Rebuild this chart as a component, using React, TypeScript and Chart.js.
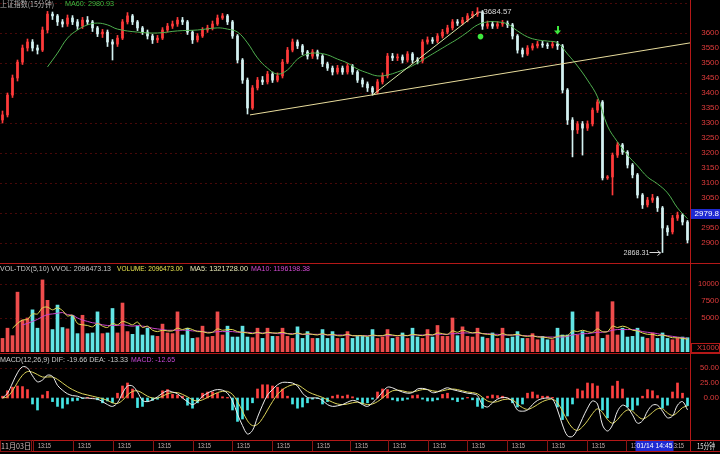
import React, { useEffect, useRef } from 'react';
import { Chart, registerables } from 'chart.js';

Chart.register(...registerables);

// ---------------- data ----------------
const firstOpen = 3310;
const closes = [
  3327, 3393, 3450, 3503, 3550, 3570, 3550, 3543, 3610, 3663,
  3657, 3637, 3630, 3650, 3637, 3623, 3643, 3637, 3617, 3597,
  3603, 3570, 3563, 3583, 3637, 3657, 3637, 3617, 3603, 3590,
  3577, 3583, 3610, 3623, 3630, 3643, 3637, 3603, 3577, 3590,
  3610, 3617, 3630, 3650, 3657, 3637, 3590, 3510, 3443, 3350,
  3417, 3443, 3437, 3463, 3443, 3457, 3503, 3543, 3570, 3557,
  3537, 3523, 3537, 3523, 3497, 3483, 3470, 3483, 3470, 3490,
  3470, 3443, 3430, 3417, 3403, 3437, 3457, 3523, 3517, 3520,
  3510, 3530, 3510, 3507, 3570, 3577, 3573, 3590, 3603, 3617,
  3637, 3633, 3643, 3657, 3663, 3670, 3623, 3630, 3623, 3630,
  3633, 3627, 3590, 3543, 3530, 3550, 3557, 3563, 3560, 3557,
  3563, 3557, 3410, 3310, 3277, 3297, 3283, 3297, 3343, 3370,
  3117, 3120, 3193, 3227, 3203, 3160, 3127, 3060, 3027, 3043,
  3050, 3017, 2950, 2937, 2983, 2993, 2970, 2910,
];
const highs = [
  3340, 3400, 3460, 3510, 3560, 3580, 3578, 3560, 3620, 3672,
  3670, 3662, 3645, 3660, 3658, 3645, 3652, 3655, 3642, 3622,
  3612, 3610, 3578, 3592, 3645, 3668, 3662, 3642, 3622, 3610,
  3596, 3592, 3618, 3632, 3640, 3652, 3652, 3642, 3608, 3598,
  3618, 3626, 3640, 3660, 3665, 3662, 3642, 3595, 3515, 3450,
  3425, 3452, 3455, 3472, 3470, 3467, 3512, 3552, 3580, 3577,
  3562, 3542, 3545, 3543, 3528, 3503, 3490, 3492, 3490, 3498,
  3495, 3475, 3450, 3437, 3422, 3445, 3467, 3532, 3532, 3530,
  3527, 3538, 3535, 3518, 3578, 3587, 3585, 3598, 3612, 3626,
  3645, 3645, 3652, 3665, 3672, 3684.57, 3675, 3640, 3638, 3638,
  3642, 3640, 3632, 3595, 3550, 3558, 3565, 3572, 3572, 3567,
  3572, 3572, 3562, 3415, 3318, 3305, 3305, 3307, 3350, 3378,
  3375, 3125, 3200, 3235, 3232, 3208, 3165, 3132, 3065, 3052,
  3062, 3055, 3022, 2958, 2992, 3003, 2998, 2975,
];
const lows = [
  3300, 3320, 3385, 3440, 3495, 3540, 3540, 3530, 3538, 3600,
  3645, 3625, 3620, 3622, 3628, 3612, 3615, 3628, 3605, 3588,
  3585, 3555, 3510, 3555, 3578, 3630, 3628, 3608, 3595, 3580,
  3565, 3568, 3578, 3603, 3615, 3622, 3628, 3595, 3565, 3570,
  3585, 3602, 3610, 3625, 3645, 3628, 3582, 3500, 3432, 3330,
  3345, 3410, 3428, 3430, 3435, 3437, 3450, 3498, 3537, 3548,
  3528, 3513, 3515, 3513, 3488, 3475, 3460, 3463, 3462, 3463,
  3462, 3435, 3420, 3405, 3393, 3398, 3430, 3450, 3508, 3508,
  3500, 3503, 3500, 3497, 3500, 3563, 3565, 3567, 3583, 3597,
  3610, 3625, 3627, 3637, 3650, 3655, 3612, 3615, 3615, 3615,
  3622, 3618, 3580, 3533, 3520, 3525, 3543, 3550, 3552, 3548,
  3550, 3545, 3400, 3295, 3187, 3265, 3193, 3275, 3290, 3335,
  3110, 3112, 3060, 3185, 3195, 3150, 3117, 3050, 3015, 3020,
  3035, 3005, 2868.31, 2925, 2930, 2975, 2960, 2900,
];
const ma60Index = [
  9, 11, 13, 15, 17, 19, 21, 23, 27, 31, 35, 39, 43,
  45, 47, 49, 51, 53, 55, 57, 59, 61, 63, 65, 67, 69, 71, 73, 75, 77, 79,
  81, 83, 85, 87, 89, 91, 93, 95, 97, 99, 101, 103, 105, 107, 109, 111,
  113, 115, 117, 119, 121, 123, 125, 127, 129, 131, 133, 135, 137,
];
const ma60Values = [
  3487, 3533, 3583, 3610, 3627, 3633, 3627, 3613, 3603, 3600, 3607, 3610, 3617,
  3613, 3603, 3567, 3517, 3483, 3463, 3477, 3513, 3530, 3533, 3527, 3513, 3500, 3480, 3467, 3457, 3460, 3470,
  3483, 3500, 3520, 3540, 3560, 3580, 3603, 3627, 3637, 3637, 3630, 3607, 3587, 3577, 3573, 3567,
  3530, 3490, 3443, 3387, 3290, 3237, 3193, 3157, 3120, 3097, 3067, 3017, 2980.93,
];
const volumes = [
  2000, 3500, 2400, 8800, 4700, 5000, 6200, 3500, 10600, 7600,
  3300, 6900, 3600, 3400, 5400, 2700, 5400, 2700, 2800, 5900,
  2700, 2800, 6400, 2800, 7200, 3000, 2600, 3800, 2500, 3500,
  2400, 2300, 4100, 2800, 2700, 5900, 2500, 3500, 2000, 2100,
  3800, 2200, 2300, 5900, 2500, 3800, 2200, 2200, 3800, 2200,
  2100, 3500, 2000, 3500, 2300, 2300, 3500, 2300, 2000, 3700,
  2000, 3000, 2000, 2000, 3300, 2000, 3000, 2000, 2000, 3000,
  2000, 2300, 2300, 2200, 3300, 2000, 2200, 3300, 2000, 2200,
  2800, 2000, 3500, 2200, 2000, 3300, 2200, 3900, 2300, 2300,
  5000, 2400, 3700, 2300, 2200, 3500, 2200, 2000, 2800, 2000,
  3500, 2000, 2200, 3000, 2000, 2000, 2700, 1800, 2300, 1800,
  1800, 3500, 2500, 2500, 5900, 2500, 3000, 2200, 2300, 5900,
  2000, 2500, 7400, 2500, 3500, 2200, 2300, 3500, 2200, 2000,
  2800, 2000, 2800, 2000, 1800, 2000, 2200, 2100,
];
const volMa5 = [
  null, null, 3500, 4200, 4700, 4800, 5600, 5600, 6500, 6600,
  6200, 6500, 6100, 5300, 5400, 4200, 4000, 3900, 3700, 4200,
  3800, 3600, 4200, 4000, 4500, 4300, 4000, 4400, 3600, 3800,
  3200, 3000, 3200, 3100, 3100, 3500, 3300, 3500, 3300, 3000,
  3000, 2800, 2900, 3400, 3200, 3300, 3300, 3000, 2900, 2800,
  2700, 2900, 2700, 2900, 2800, 2800, 2900, 2700, 2600, 2800,
  2600, 2700, 2600, 2500, 2700, 2500, 2600, 2400, 2400, 2600,
  2400, 2400, 2400, 2300, 2500, 2400, 2400, 2600, 2500, 2400,
  2500, 2400, 2600, 2500, 2400, 2600, 2500, 2800, 2700, 2600,
  3100, 2900, 3200, 3000, 2800, 2900, 2700, 2600, 2600, 2400,
  2700, 2500, 2500, 2600, 2400, 2300, 2400, 2200, 2200, 2100,
  2000, 2300, 2400, 2400, 3100, 3000, 3200, 3000, 2900, 3400,
  3000, 3000, 3800, 3600, 3800, 3600, 3200, 3100, 2800, 2600,
  2600, 2400, 2500, 2300, 2100, 2100, 2000, 1900,
];
const volMa10 = [
  null, null, null, null, 4000, 4200, 4500, 4800, 5200, 5500,
  5600, 5700, 5800, 5500, 5400, 5000, 4700, 4500, 4300, 4200,
  4000, 3900, 3900, 3900, 4000, 3900, 3800, 3900, 3800, 3700,
  3500, 3400, 3300, 3200, 3200, 3200, 3200, 3200, 3100, 3100,
  3000, 2900, 2900, 3000, 3000, 3000, 3000, 2900, 2900, 2900,
  2800, 2800, 2800, 2800, 2800, 2700, 2700, 2700, 2700, 2700,
  2600, 2600, 2600, 2600, 2600, 2500, 2500, 2500, 2500, 2500,
  2400, 2400, 2400, 2400, 2400, 2400, 2400, 2400, 2400, 2400,
  2400, 2400, 2500, 2500, 2500, 2500, 2500, 2600, 2600, 2600,
  2700, 2700, 2800, 2800, 2800, 2800, 2700, 2700, 2600, 2600,
  2500, 2500, 2500, 2500, 2400, 2400, 2300, 2300, 2200, 2200,
  2200, 2200, 2200, 2300, 2500, 2600, 2700, 2700, 2800, 2900,
  2900, 3000, 3200, 3300, 3300, 3300, 3300, 3200, 3000, 2900,
  2800, 2700, 2500, 2400, 2300, 2200, 2100, 2000,
];
const macdHist = [
  3, 12, 18, 20, 19, 14, -10, -20, 5, 11,
  -6, -14, -17, -10, -5, -4, -1, 1, 0, -3,
  -8, -5, -8, 8, 20, 25, 15, -16, -14, -6,
  -4, -2, 12, 14, 6, 5, 3, -12, -17, -8,
  8, 10, 10, 8, 2, 1, -20, -39, -35, -20,
  -8, 15, 22, 22, 20, 18, 15, 3, -10, -17,
  -15, -8, -2, -1, -10, -6, 3, 5, 3, 5,
  2, -3, -10, -8, -2, 10, 15, 14, -3, -5,
  -4, -2, 4, 5, -2, -5, -5, -3, 6, 8,
  -3, -6, -2, 1, -3, -14, -17, 3, 5, 4,
  3, 0, -8, -15, -10, 8, 10, 5, 3, 3,
  1, -15, -36, -30, -10, 15, 12, 25, 24, 20,
  -20, -33, 20, 28, 15, -15, -20, -12, 3, 14,
  12, 4, -17, -12, 10, 25, 8, -12.65,
];
const difLine = [
  0, 8, 25, 42, 52, 50, 37, 27, 30, 38,
  36, 21, 13, 7, 4, 3, 0, 0, -1, -2,
  -6, -11, -14, -8, 8, 20, 20, 10, -4, -6,
  -3, 2, 8, 12, 10, 7, 0, -6, -11, -6,
  3, 8, 12, 14, 13, 8, -5, -27, -46, -60,
  -54, -32, -12, 5, 14, 22, 26, 26, 25, 20,
  8, 1, 0, 0, -4, -11, -14, -13, -11, -7,
  -4, -6, -11, -14, -8, 0, 10, 18, 17, 13,
  10, 8, 9, 15, 16, 14, 9, 10, 14, 17,
  14, 12, 10, 8, 7, 4, -11, -15, -8, -2,
  1, 0, -6, -20, -22, -20, -11, -4, -1, 0,
  -2, -20, -45, -63, -64, -52, -34, -17, -5, -10,
  -45, -55, -45, -22, -12, -16, -28, -42, -38, -22,
  -12, -12, -22, -33, -30, -12, -6, -19.66,
];
const deaLine = [
  0, 2, 12, 26, 38, 44, 43, 39, 35, 35,
  35, 31, 25, 19, 14, 10, 7, 5, 3, 1,
  -1, -4, -8, -9, -4, 5, 11, 12, 8, 3,
  0, 0, 3, 7, 9, 9, 6, 2, -3, -5,
  -3, 1, 5, 9, 11, 11, 6, -6, -22, -38,
  -46, -44, -34, -20, -6, 6, 14, 19, 22, 22,
  17, 11, 7, 4, 1, -3, -7, -10, -11, -10,
  -8, -7, -9, -11, -10, -6, 0, 7, 12, 13,
  12, 10, 10, 12, 14, 14, 12, 11, 12, 14,
  15, 14, 12, 10, 9, 7, 1, -5, -7, -6,
  -3, -2, -3, -10, -16, -19, -16, -11, -6, -3,
  -2, -8, -22, -38, -50, -54, -48, -38, -26, -18,
  -24, -36, -42, -36, -26, -20, -22, -30, -35, -31,
  -24, -18, -18, -25, -29, -24, -16, -13.33,
];
const priceTicks = [3600, 3550, 3500, 3450, 3400, 3350, 3300, 3250, 3200, 3150, 3100, 3050, 3000, 2950, 2900];
const priceGrid = [3700, 3600, 3500, 3400, 3300, 3200, 3100, 3000, 2900];
const volTicks = [10000, 7500, 5000];
const volGrid = [10000, 5000];
const macdTicks = [50, 25, 0];
const macdGrid = [50];
const xTickLabels = ['11月03日', '13:15', '13:15', '13:15', '13:15', '13:15', '13:15', '13:15', '13:15',
  '13:15', '13:15', '13:15', '13:15', '13:15', '13:15', '13:15', '13:15', '13:15'];
const xTickPos = [0, 7.6, 15.6, 23.6, 31.6, 39.6, 47.4, 55.4, 63.4, 71, 78.6, 86.6, 94.4, 102.4, 110.4, 118.4, 126.2, 134.2];
const supportLine = { from: [49.5, 3327], to: [137.5, 3567] };
const riseLine = { from: [74, 3393], to: [95, 3667] };
const buySignal = { index: 95.6, price: 3588 };
const sellSignal = { index: 111, price: 3600 };
const cursorPrice = { label: '2979.8', level: 2998 };
const cursorTime = { label: '01/14 14:45', index: 130.4 };

// ---------------- styles ----------------
const UP = '#ff3a3a';
const DOWN = '#d4f2f2';
const VOL_UP = '#ee4c4c';
const VOL_DOWN = '#62e4e4';
const MACD_UP = '#ff4040';
const MACD_DOWN = '#46e6e6';
const MA60_C = '#4fb04f';
const GRID = 'rgba(120,14,14,0.6)';
const AXIS = '#b41818';
const LABEL = '#e23c3c';
const FONT = "'Liberation Sans', Arial, sans-serif";
const CJK = "'Noto Sans CJK SC', 'Liberation Sans', sans-serif";

const barLabels = closes.map((_, i) => `K${i + 1}`);
const opens = closes.map((c, i) => (i === 0 ? firstOpen : closes[i - 1]));
const isUp = closes.map((c, i) => c >= opens[i]);

function txt(ctx: CanvasRenderingContext2D, s: string, x: number, y: number, color: string,
  maxW?: number, align: CanvasTextAlign = 'left', size = 8, family = FONT) {
  ctx.font = `${size}px ${family}`;
  ctx.fillStyle = color;
  ctx.textAlign = align;
  ctx.textBaseline = 'middle';
  if (maxW) ctx.fillText(s, x, y, maxW); else ctx.fillText(s, x, y);
}

function hline(ctx: CanvasRenderingContext2D, x0: number, x1: number, y: number, color: string, dash: number[] = []) {
  ctx.save();
  ctx.strokeStyle = color; ctx.lineWidth = 1; ctx.setLineDash(dash);
  ctx.beginPath(); ctx.moveTo(x0, Math.round(y) + 0.5); ctx.lineTo(x1, Math.round(y) + 0.5); ctx.stroke();
  ctx.restore();
}
function vline(ctx: CanvasRenderingContext2D, x: number, y0: number, y1: number, color: string) {
  ctx.save();
  ctx.strokeStyle = color; ctx.lineWidth = 1;
  ctx.beginPath(); ctx.moveTo(Math.round(x) + 0.5, y0); ctx.lineTo(Math.round(x) + 0.5, y1); ctx.stroke();
  ctx.restore();
}

const baseOptions = (padTop: number, padBottom: number, min: number, max: number) => ({
  animation: false as const,
  responsive: false,
  devicePixelRatio: 1,
  events: [] as any[],
  layout: { padding: { left: 0, right: 30, top: padTop, bottom: padBottom } },
  plugins: { legend: { display: false }, tooltip: { enabled: false }, title: { display: false } },
  scales: {
    x: { display: false, offset: true, grid: { display: false } },
    y: { display: false, min, max },
  },
});

const mainOverlay = {
  id: 'mainOverlay',
  beforeDatasetsDraw(chart: any) {
    const { ctx, chartArea, scales: { y } } = chart;
    for (const v of priceGrid) hline(ctx, chartArea.left, chartArea.right, y.getPixelForValue(v), GRID, [2, 3]);
  },
  afterDraw(chart: any) {
    const { ctx, chartArea, scales: { x, y } } = chart;
    ctx.save();
    const drawSeg = (seg: any, color: string) => {
      ctx.strokeStyle = color; ctx.lineWidth = 1;
      ctx.beginPath();
      ctx.moveTo(x.getPixelForValue(seg.from[0]), y.getPixelForValue(seg.from[1]));
      ctx.lineTo(x.getPixelForValue(seg.to[0]), y.getPixelForValue(seg.to[1]));
      ctx.stroke();
    };
    drawSeg(supportLine, '#e8dc9c');
    drawSeg(riseLine, '#d6e8a6');
    const hi = Math.max(...highs); const hiI = highs.indexOf(hi);
    const lo = Math.min(...lows); const loI = lows.indexOf(lo);
    const hx = x.getPixelForValue(hiI), hy = y.getPixelForValue(hi) + 4;
    ctx.strokeStyle = '#d8d8d8';
    ctx.beginPath(); ctx.moveTo(hx + 1, hy + 0.5); ctx.lineTo(hx + 6, hy + 0.5); ctx.stroke();
    txt(ctx, hi.toFixed(2), hx + 6, hy, '#d8d8d8', 28);
    const lx = x.getPixelForValue(loI), ly = y.getPixelForValue(lo);
    ctx.beginPath(); ctx.moveTo(lx - 13, Math.round(ly) + 0.5); ctx.lineTo(lx - 2, Math.round(ly) + 0.5); ctx.stroke();
    ctx.beginPath(); ctx.moveTo(lx - 5, ly - 2); ctx.lineTo(lx - 2, ly + 0.5); ctx.lineTo(lx - 5, ly + 3); ctx.stroke();
    txt(ctx, lo.toFixed(2), lx - 13, ly, '#d8d8d8', 26, 'right');
    ctx.fillStyle = '#3ee83e';
    ctx.beginPath(); ctx.arc(x.getPixelForValue(buySignal.index), y.getPixelForValue(buySignal.price), 2.8, 0, Math.PI * 2); ctx.fill();
    const sx = x.getPixelForValue(sellSignal.index), sy = y.getPixelForValue(sellSignal.price);
    ctx.fillRect(Math.round(sx) - 1, sy - 7, 2, 5);
    ctx.beginPath(); ctx.moveTo(sx - 3.5, sy - 2.5); ctx.lineTo(sx + 3.5, sy - 2.5); ctx.lineTo(sx, sy + 1.5); ctx.closePath(); ctx.fill();
    txt(ctx, '上证指数(15分钟)', 0, 3.5, '#b4b4b4', 54, 'left', 8, CJK);
    txt(ctx, 'MA60: 2980.93', 65, 3.5, '#40b840', 49);
    vline(ctx, chartArea.right, 0, chart.height, AXIS);
    for (const v of priceTicks) txt(ctx, String(v), 719, y.getPixelForValue(v), LABEL, 18, 'right');
    const cy = Math.round(y.getPixelForValue(cursorPrice.level));
    ctx.fillStyle = '#1f2ad2';
    ctx.fillRect(chartArea.right + 1, cy - 5, 29, 10);
    txt(ctx, cursorPrice.label, 719, cy, '#ffffff', 26, 'right');
    ctx.restore();
  },
};

const volOverlay = {
  id: 'volOverlay',
  beforeDatasetsDraw(chart: any) {
    const { ctx, chartArea, scales: { y } } = chart;
    for (const v of volGrid) hline(ctx, chartArea.left, chartArea.right, y.getPixelForValue(v), GRID, [2, 3]);
  },
  afterDraw(chart: any) {
    const { ctx, chartArea, scales: { y } } = chart;
    ctx.save();
    hline(ctx, 0, 720, 0, AXIS);
    vline(ctx, chartArea.right, 0, chart.height, AXIS);
    txt(ctx, 'VOL-TDX(5,10) VVOL: 2096473.13', 0, 5.5, '#c8c8c8', 111);
    txt(ctx, 'VOLUME: 2096473.00', 117, 5.5, '#e6e24e', 66);
    txt(ctx, 'MA5: 1321728.00', 190, 5.5, '#e6e6b4', 58);
    txt(ctx, 'MA10: 1196198.38', 251, 5.5, '#d24ad2', 59);
    for (const v of volTicks) txt(ctx, String(v), 719, y.getPixelForValue(v), LABEL, 21, 'right');
    const by = chartArea.bottom - 9;
    ctx.strokeStyle = AXIS; ctx.lineWidth = 1;
    ctx.strokeRect(chartArea.right + 1.5, by + 0.5, 28, 9);
    txt(ctx, 'X1000', 719, by + 5, LABEL, 22, 'right');
    ctx.restore();
  },
};

const macdOverlay = {
  id: 'macdOverlay',
  beforeDatasetsDraw(chart: any) {
    const { ctx, chartArea, scales: { y } } = chart;
    for (const v of macdGrid) hline(ctx, chartArea.left, chartArea.right, y.getPixelForValue(v), GRID, [2, 3]);
  },
  afterDraw(chart: any) {
    const { ctx, chartArea, scales: { x, y } } = chart;
    ctx.save();
    hline(ctx, 0, 720, 0, AXIS);
    vline(ctx, chartArea.right, 0, chartArea.bottom + 12, AXIS);
    txt(ctx, 'MACD(12,26,9) DIF: -19.66 DEA: -13.33', 0, 7, '#c8c8c8', 128);
    txt(ctx, 'MACD: -12.65', 131, 7, '#c848d8', 44);
    for (const v of macdTicks) txt(ctx, v.toFixed(2), 719, y.getPixelForValue(v), LABEL, 19, 'right');
    const top = chartArea.bottom;
    hline(ctx, 0, 720, top, AXIS);
    hline(ctx, 0, 720, top + 11, AXIS);
    xTickLabels.forEach((lab, k) => {
      const lx = x.getPixelForValue(xTickPos[k] - 0.5);
      if (k > 0) vline(ctx, lx - 5, top, top + 11, '#8a1414');
      const w = k === 0 ? 30 : 13;
      if (k === 0) { ctx.strokeStyle = '#8a1414'; ctx.strokeRect(0.5, top + 0.5, 31, 11); }
      txt(ctx, lab, lx + (k === 0 ? 1 : 0), top + 6, '#d4bcbc', w, 'left', 8, k === 0 ? CJK : FONT);
    });
    const cx = x.getPixelForValue(cursorTime.index);
    ctx.fillStyle = '#1f2ad2';
    ctx.fillRect(cx - 19, top + 1, 38, 10);
    txt(ctx, cursorTime.label, cx, top + 6, '#ffffff', 36, 'center');
    txt(ctx, '15分钟', 697, top + 6, '#e0e0e0', 18, 'left', 8, CJK);
    ctx.restore();
  },
};

function makeMain(canvas: HTMLCanvasElement) {
  const colors = isUp.map((u) => (u ? UP : DOWN));
  return new Chart(canvas, {
    type: 'bar',
    data: {
      labels: barLabels,
      datasets: [
        {
          type: 'bar', label: 'wick',
          data: closes.map((c, i) => [Math.min(lows[i], opens[i], c), Math.max(highs[i], opens[i], c)]),
          backgroundColor: colors, barThickness: 1, grouped: false, order: 3,
        } as any,
        {
          type: 'bar', label: 'body',
          data: closes.map((c, i) => [opens[i], c]),
          backgroundColor: colors, barThickness: 2, grouped: false, order: 2, minBarLength: 1,
        } as any,
        {
          type: 'line', label: 'MA60',
          data: ma60Index.map((idx, k) => ({ x: barLabels[idx], y: ma60Values[k] })),
          borderColor: MA60_C, borderWidth: 1, pointRadius: 0, tension: 0.4, order: 1,
        } as any,
      ],
    },
    options: baseOptions(0, 0, 2833.3, 3710) as any,
    plugins: [mainOverlay],
  });
}

function makeVol(canvas: HTMLCanvasElement) {
  return new Chart(canvas, {
    type: 'bar',
    data: {
      labels: barLabels,
      datasets: [
        { type: 'bar', label: 'VOLUME', data: volumes, backgroundColor: isUp.map((u) => (u ? VOL_UP : VOL_DOWN)), barThickness: 3, order: 3 } as any,
        { type: 'line', label: 'MA5', data: volMa5, borderColor: '#e2dc52', borderWidth: 1, pointRadius: 0, tension: 0.3, order: 1 } as any,
        { type: 'line', label: 'MA10', data: volMa10, borderColor: '#c844c8', borderWidth: 1, pointRadius: 0, tension: 0.3, order: 2 } as any,
      ],
    },
    options: baseOptions(13, 1, 0, 11176) as any,
    plugins: [volOverlay],
  });
}

function makeMacd(canvas: HTMLCanvasElement) {
  return new Chart(canvas, {
    type: 'bar',
    data: {
      labels: barLabels,
      datasets: [
        { type: 'bar', label: 'MACD', data: macdHist, backgroundColor: macdHist.map((v) => (v >= 0 ? MACD_UP : MACD_DOWN)), barThickness: 2, order: 3 } as any,
        { type: 'line', label: 'DEA', data: deaLine, borderColor: '#dcd45a', borderWidth: 1, pointRadius: 0, tension: 0.35, order: 2 } as any,
        { type: 'line', label: 'DIF', data: difLine, borderColor: '#ececec', borderWidth: 1, pointRadius: 0, tension: 0.35, order: 1 } as any,
      ],
    },
    options: baseOptions(13, 14, -70, 53.33) as any,
    plugins: [macdOverlay],
  });
}

export default function App() {
  const mainRef = useRef<HTMLCanvasElement>(null);
  const volRef = useRef<HTMLCanvasElement>(null);
  const macdRef = useRef<HTMLCanvasElement>(null);
  useEffect(() => {
    const charts = [makeMain(mainRef.current!), makeVol(volRef.current!), makeMacd(macdRef.current!)];
    return () => charts.forEach((c) => c.destroy());
  }, []);
  const cs = (top: number, h: number): React.CSSProperties => ({ position: 'absolute', left: 0, top, width: 720, height: h, display: 'block' });
  return (
    <div style={{ position: 'fixed', left: 0, top: 0, width: 720, height: 454, background: '#000', overflow: 'hidden' }}>
      <canvas ref={mainRef} width={720} height={263} style={cs(0, 263)} />
      <canvas ref={volRef} width={720} height={90} style={cs(263, 90)} />
      <canvas ref={macdRef} width={720} height={101} style={cs(353, 101)} />
    </div>
  );
}
